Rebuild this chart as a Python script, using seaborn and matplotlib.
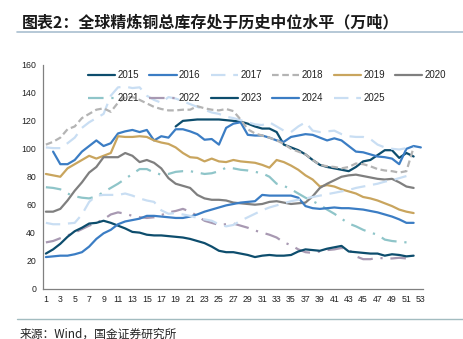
import numpy as np
import pandas as pd
import matplotlib
matplotlib.use("Agg")
import matplotlib.pyplot as plt
from matplotlib.lines import Line2D
import seaborn as sns

nan = np.nan

# Weekly global refined copper inventory, 10k tonnes (week 1..53)
weeks = list(range(1, 54))

y2015 = [nan] * 18 + [116, 120, 120.5, 121, 121, 121, 121, 120.5, 120, 119.5, 118, 116,
                      114.5, 114.5, 112, 103, 101, 99, 96, 92, 88.5, 87, 86, 85, 84, 87,
                      91, 92, 95.5, 99, 99, 93.5, 97, 94.5, nan]
y2016 = [nan, 98, 89, 89, 92, 98, 102, 106, 102, 104, 111, 112.5, 113.5, 112, 113.5, 106,
         109, 108, 114, 114, 112.5, 110.5, 106.5, 107, 103, 115, 118, 119, 110, 109.5,
         109.5, 108, 106, 105, 108.5, 109.5, 110.5, 110, 108, 106, 107.5, 106, 102, 98,
         97.5, 96, 94.5, 94, 93, 89, 100, 102, 101]
y2017 = [101, 100.5, 100.5, 104, 108, 115, 119, 122, 125, 138, 144, 144.5, 143.5, 144,
         138, 135, 133, 137, 136, 134, 132, 130, 128, 126, 125, 123, 122, 120.5, 119,
         117.5, 117, 119, 116, 113, 112, 116, 119, 113, 112, 112.5, 113, 110.5, 109,
         108.5, 108.5, 107, 103, 101, 100, 99.5, 100.5, 101, nan]
y2018 = [103, 105, 108, 114, 116, 122, 125, 128, 129, 126.5, 133, 137, 137, 135, 132.5,
         130, 128.5, 127.5, 127.5, 128, 128, 130.5, 129, 128, 127.5, 128.5, 127, 121, 114,
         111, 109.5, 108, 106, 103.5, 100, 98, 96, 92, 88.5, 87.5, 87, 86, 87, 89.5, 89,
         87.5, 85.5, 84.5, 84, 83, 84, 101, nan]
y2019 = [82, 81, 80, 86, 89, 92, 95, 93, 95, 97, 109, 108.5, 108.5, 109, 108.5, 106,
         104.5, 103.5, 101, 97, 94, 93.5, 91, 93, 91, 90.5, 92, 91, 90.5, 90, 88.5, 86.5,
         92, 90.5, 88, 85, 81, 78, 73, 74, 73, 71, 69.5, 68, 65.5, 64.5, 63, 61, 59, 56.5,
         55, 54, nan]
y2020 = [55, 55, 57, 63, 70, 76, 83, 87, 94, 94, 94, 97, 95, 90.5, 92, 90, 86, 79, 75,
         73.5, 72, 67, 64.5, 63.5, 63.5, 63, 61.5, 61, 60.5, 60, 60.5, 62, 62.5, 61.5,
         60.5, 61, 61.5, 66, 72, 75, 77.5, 80, 81, 81.5, 80.5, 79.5, 78.5, 78, 78.5, 76,
         73, 72, nan]
y2021 = [72.5, 72, 71, 68, 66, 65, 64.5, 66, 69, 72, 75, 78.5, 82, 85.5, 85.5, 83, 81.5,
         82, 83.5, 84, 84, 83, 82, 82.5, 84, 86.5, 86, 85, 84.5, 83.5, 82.5, 80, 75, 73.5,
         71, 68, 65, 62.5, 60, 56.5, 53.5, 50, 46.5, 44.5, 42, 40, 38.5, 35, 34, 33.5, 33,
         32.5, nan]
y2022 = [33, 34, 36, 38, 40, 42.5, 45, 47, 49.5, 53, 54.5, 53.5, 52, 51, 50.5, 51, 52.5,
         54.5, 55.5, 57, 55, 52, 48.5, 47, 45.5, 46, 46.5, 45, 43.5, 41.5, 40, 38.5, 36.5,
         33, 31, 28, 26, 25.5, 26.5, 27.5, 28, 29, 28, 23, 21, 21, 22, 21.5, 21.5, 22,
         21.5, 21.5, nan]
y2023 = [25, 28, 32, 37, 41, 43.5, 46.5, 47, 48.5, 47, 45, 43, 40.5, 40, 38.5, 38, 38,
         37.5, 37, 36.5, 35.5, 34, 32.5, 30, 27, 26, 26, 25, 24, 22.5, 23.5, 24, 23.5,
         23.5, 24, 26.5, 28, 27.5, 27, 28.5, 29.5, 30.5, 26.5, 26, 25.5, 25, 25, 23.5,
         24.5, 24, 23, 23.5, nan]
y2024 = [22.5, 23, 23.5, 23.5, 24.5, 26, 30, 35.5, 39.5, 42, 46, 48, 49, 50, 52, 52,
         51.5, 51, 50.5, 50.5, 51.5, 53, 55, 56.5, 58, 59.5, 60.5, 61.5, 62, 62.5, 67,
         66.5, 66.5, 66.5, 66.5, 65, 59, 57.5, 57, 57.5, 58, 57.5, 57.5, 57, 56.5, 55.5,
         54.5, 53, 51.5, 49.5, 47, 47, nan]
y2025 = [47, 46, 46, 46.5, 47, 53, 62, 66.5, 67, 67, 67, 68, 66.5, 64.5, 63, 62, 56,
         53.5, 54, 53, 52, 50.5, 49.5, 48.5, 46, 44.5, 45.5, 48.5, 51, 53.5, 56, 58, 59.5,
         61, 62.5, 63.5, 64.5, 65.5, 66.5, 67.5, 68.5, 69.5, 70.5, 72, 73, 74, 75, 76.5,
         77.5, 79, 80.5, nan, nan]

years = ["2015", "2016", "2017", "2018", "2019", "2020",
         "2021", "2022", "2023", "2024", "2025"]
series = [y2015, y2016, y2017, y2018, y2019, y2020,
          y2021, y2022, y2023, y2024, y2025]

df = pd.concat(
    [pd.DataFrame({"week": weeks, "value": vals, "year": yr})
     for yr, vals in zip(years, series)],
    ignore_index=True,
).dropna()

navy = "#0d4d6d"
blue = "#3b7dc4"
pale = "#c9def3"
palette = {
    "2015": navy, "2016": blue, "2017": pale, "2018": "#b4b4b4",
    "2019": "#c9a55e", "2020": "#7f7f7f", "2021": "#8fc5c9", "2022": "#a899b2",
    "2023": navy, "2024": blue, "2025": pale,
}
dashes = {
    "2015": "", "2016": "", "2017": (6.5, 3.5), "2018": (3, 1.6),
    "2019": "", "2020": "", "2021": (7, 3.5, 1, 3.5), "2022": (7, 3.5, 1, 3.5),
    "2023": "", "2024": "", "2025": (6.5, 3.5),
}

sns.set_theme(style="white")
plt.rcParams["font.family"] = ["Liberation Sans", "DejaVu Sans"]

fig = plt.figure(figsize=(4.63, 3.39), dpi=100)
ax = fig.add_axes([43 / 463, 1 - 288.5 / 339, 380 / 463, 223.5 / 339])

sns.lineplot(data=df, x="week", y="value", hue="year", style="year",
             hue_order=years, style_order=years, palette=palette,
             dashes=dashes, estimator=None, sort=True, linewidth=1.6,
             legend=False, ax=ax)

ax.set_xlim(0.6, 53.3)
ax.set_ylim(0, 160)
ax.set_xlabel("")
ax.set_ylabel("")
ax.set_yticks(np.arange(0, 161, 20))
ax.set_xticks(weeks)
ax.set_xticklabels([str(w) if w % 2 == 1 else "" for w in weeks])
ax.tick_params(axis="both", which="major", labelsize=6.3, colors="#222222",
               length=3, width=0.8, pad=2, direction="out")
ax.tick_params(axis="both", color="#808080")
for side in ("top", "right"):
    ax.spines[side].set_visible(False)
for side in ("left", "bottom"):
    ax.spines[side].set_color("#808080")
    ax.spines[side].set_linewidth(0.9)
ax.grid(False)

# Legend laid out row by row: six years on the first row, five on the second
line_of = {yr: ln for yr, ln in zip(years, ax.get_lines())}
order = ["2015", "2021", "2016", "2022", "2017", "2023",
         "2018", "2024", "2019", "2025", "2020"]
handles = []
for yr in order:
    ln = line_of[yr]
    h = Line2D([], [], color=ln.get_color(), linewidth=1.6)
    if dashes[yr]:
        h.set_dashes(dashes[yr])
    handles.append(h)
fig.legend(handles, order, ncol=6, loc="upper left",
           bbox_to_anchor=(88 / 463, 1 - 70 / 339), frameon=False,
           fontsize=7, handlelength=2.8, handletextpad=0.25,
           columnspacing=1.05, labelspacing=1.35, borderpad=0,
           borderaxespad=0, labelcolor="#222222")

cjk = ["Noto Sans CJK SC", "DejaVu Sans"]
fig.text(22 / 463, 1 - 22 / 339, "图表2：全球精炼铜总库存处于历史中位水平（万吨）",
         family=cjk, fontsize=11.5, fontweight="bold", color="#1a1a1a",
         ha="left", va="center")
fig.add_artist(Line2D([17 / 463, 1.0], [1 - 32 / 339, 1 - 32 / 339],
                      transform=fig.transFigure, color="#a9bfcf", linewidth=1.2))
fig.add_artist(Line2D([17 / 463, 1.0], [1 - 318.5 / 339, 1 - 318.5 / 339],
                      transform=fig.transFigure, color="#a3bcc0", linewidth=1.0))
fig.text(20 / 463, 1 - 334 / 339, "来源：Wind，国金证券研究所",
         family=cjk, fontsize=8.5, color="#222222", ha="left", va="center")

fig.savefig("out.png", dpi=100, facecolor="white")
